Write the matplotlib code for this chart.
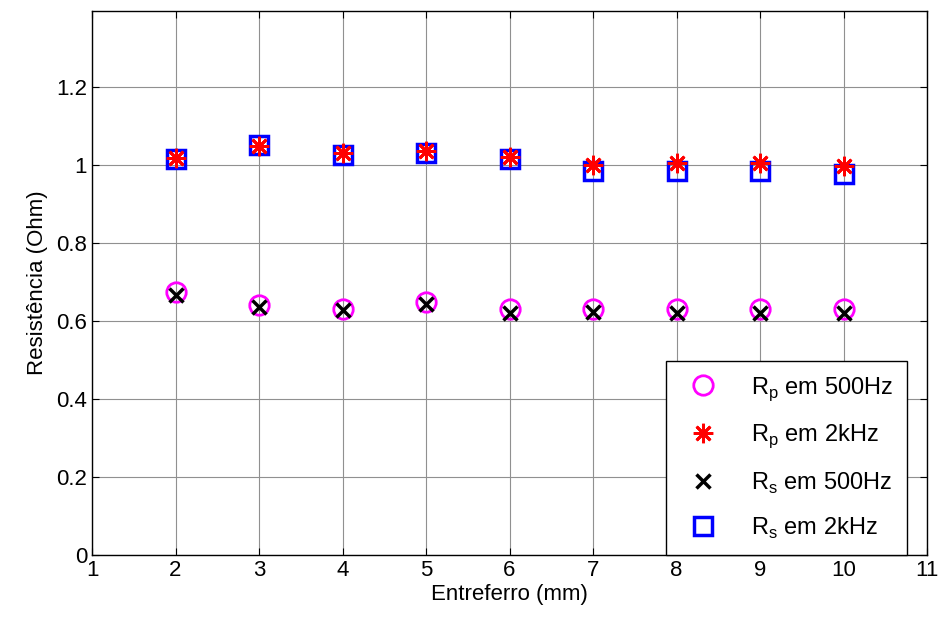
import matplotlib
matplotlib.use("Agg")
import matplotlib.pyplot as plt

plt.rcParams['font.family'] = ['Liberation Sans', 'DejaVu Sans']
plt.rcParams['mathtext.fontset'] = 'custom'
plt.rcParams['mathtext.rm'] = 'Liberation Sans'

# entreferro (mm)
entreferro = [2, 3, 4, 5, 6, 7, 8, 9, 10]
rp_500 = [0.674, 0.641, 0.632, 0.650, 0.632, 0.632, 0.632, 0.632, 0.632]
rp_2k = [1.017, 1.050, 1.031, 1.037, 1.021, 1.000, 1.004, 1.004, 0.998]
rs_500 = [0.667, 0.637, 0.627, 0.644, 0.621, 0.623, 0.620, 0.620, 0.620]
rs_2k = [1.015, 1.052, 1.027, 1.031, 1.015, 0.985, 0.985, 0.985, 0.977]

fig = plt.figure(figsize=(9.44, 6.25), dpi=100)
ax = fig.add_axes([0.0975, 0.112, 0.8845, 0.8704])

ax.plot(entreferro, rp_500, 'o', mfc='none', mec='#ff00ff', mew=2, ms=14,
        label='R$_\\mathregular{p}$ em 500Hz', zorder=3)
ax.plot(entreferro, rp_2k, marker=(8, 2, 0), ls='none', color='red',
        mec='red', mew=2, ms=14,
        label='R$_\\mathregular{p}$ em 2kHz', zorder=4)
ax.plot(entreferro, rs_500, 'x', color='black', mew=2.5, ms=10,
        label='R$_\\mathregular{s}$ em 500Hz', zorder=5)
ax.plot(entreferro, rs_2k, 's', mfc='none', mec='blue', mew=2.5, ms=13,
        label='R$_\\mathregular{s}$ em 2kHz', zorder=3)

ax.set_xlim(1, 11)
ax.set_ylim(0, 1.395)
ax.set_xticks(range(1, 12))
ax.set_yticks([0, 0.2, 0.4, 0.6, 0.8, 1.0, 1.2])
ax.set_yticklabels(['0', '0.2', '0.4', '0.6', '0.8', '1', '1.2'])
ax.tick_params(direction='in', top=True, right=True, labelsize=16, length=5)
ax.grid(True, color='#909090', linewidth=0.8)
ax.set_axisbelow(True)
for s in ax.spines.values():
    s.set_linewidth(1)

ax.set_xlabel('Entreferro (mm)', fontsize=16, labelpad=2)
ax.set_ylabel('Resistência (Ohm)', fontsize=16, labelpad=6)

leg = ax.legend(loc='lower right', fontsize=17, frameon=True, fancybox=False,
                edgecolor='black', framealpha=1, borderpad=0.6,
                labelspacing=0.85, handlelength=2.0, handletextpad=1.0,
                borderaxespad=0.0, bbox_to_anchor=(0.976, 0.0))
leg.get_frame().set_linewidth(1)

fig.savefig('out.png', dpi=100)
